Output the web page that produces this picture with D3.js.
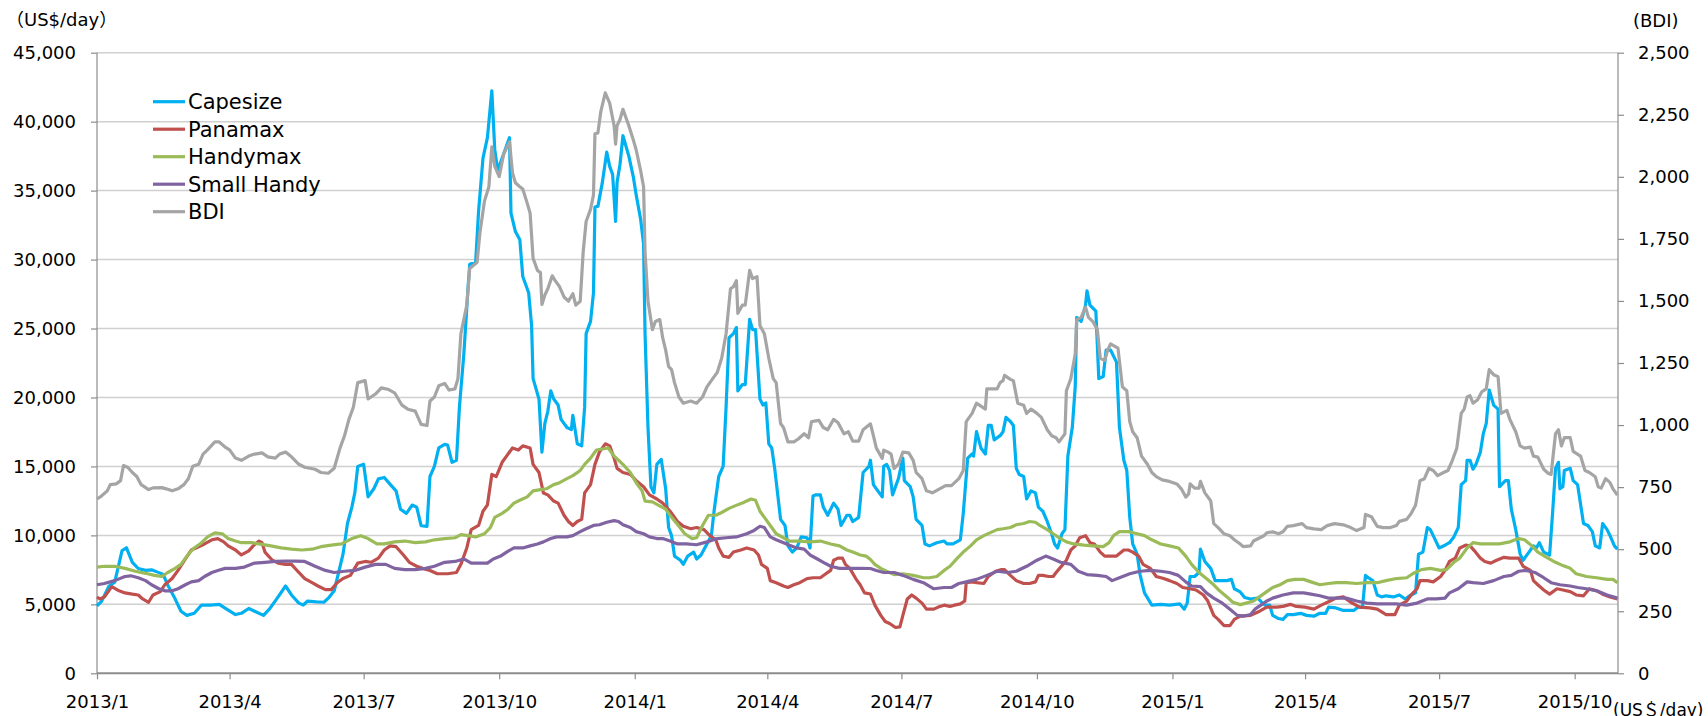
<!DOCTYPE html>
<html>
<head>
<meta charset="utf-8">
<script src="https://cdn.jsdelivr.net/npm/d3@7"></script>
<style>
html,body{margin:0;padding:0;background:#fff;}
svg{display:block;}
text{font-family:"DejaVu Sans","Noto Sans CJK JP",sans-serif;fill:#000;}
</style>
</head>
<body>
<svg id="chart" width="1708" height="716"></svg>
<script>
// ---- data: [days since 2013-01-01, value] ----
const seriesNames = ["Capesize","Panamax","Handymax","Small Handy","BDI"];
const seriesColors = ["#00B0F0","#C0504D","#9BBB59","#8064A2","#A5A5A5"];
const leftTicks = [0,5000,10000,15000,20000,25000,30000,35000,40000,45000];
const rightTicks = [0,250,500,750,1000,1250,1500,1750,2000,2250,2500];

const capesize = [[0,4900],[3,5200],[8,6300],[12,6600],[17,8900],[20,9100],[24,8050],[28,7600],[33,7460],[37,7500],[42,7300],[45,7160],[48,6400],[53,5400],[57,4500],[61,4200],[66,4350],[71,4950],[77,4950],[83,5000],[88,4650],[94,4260],[98,4350],[103,4700],[107,4500],[113,4200],[117,4650],[122,5400],[128,6330],[132,5680],[137,5090],[140,4950],[143,5240],[149,5180],[154,5150],[157,5450],[161,5980],[165,7750],[167,8640],[170,10860],[173,12050],[175,13080],[177,15000],[181,15150],[184,12800],[188,13400],[191,14100],[195,14200],[199,13700],[203,13230],[206,11900],[210,11600],[214,12200],[217,12050],[220,10700],[224,10660],[226,14270],[229,15000],[232,16340],[236,16600],[238,16550],[241,15300],[244,15450],[246,19300],[249,23150],[252,28180],[253,29660],[257,29800],[259,33500],[262,37350],[265,38840],[268,42240],[270,37950],[272,36470],[276,37650],[280,38840],[281,33360],[284,32030],[287,31440],[289,28770],[293,27590],[295,25220],[296,21370],[300,19890],[302,16040],[304,18120],[306,19000],[308,20480],[310,19890],[313,19450],[315,18410],[319,17820],[322,17670],[323,18710],[326,16640],[329,16490],[331,19300],[332,24630],[335,25520],[337,27590],[338,33800],[340,33860],[343,35580],[346,37800],[348,36760],[350,36170],[352,32770],[353,35580],[355,36910],[357,38980],[361,37500],[364,36020],[366,34690],[369,32920],[371,31140],[372,24630],[374,17820],[376,13530],[378,13080],[380,15150],[383,15510],[386,13380],[388,10570],[390,9980],[392,8500],[396,8200],[398,7900],[401,8500],[405,8790],[407,8290],[410,8580],[414,9380],[417,9980],[419,11900],[422,14270],[425,15000],[427,19300],[429,24330],[432,24630],[434,25070],[435,20480],[438,20930],[440,20930],[443,25660],[445,24920],[447,24920],[450,19890],[452,19450],[454,19600],[456,16640],[458,16340],[460,14860],[464,11160],[467,10720],[469,9240],[472,8790],[475,9090],[478,9890],[482,9830],[484,9090],[486,12850],[488,12940],[491,12940],[493,12050],[496,11460],[500,12340],[503,11900],[505,10720],[509,11460],[511,11460],[513,11010],[517,11310],[520,14560],[524,15000],[525,15450],[527,13680],[530,13230],[533,12790],[534,15010],[536,15150],[538,14710],[540,12940],[544,14120],[547,15600],[548,13970],[552,13530],[554,12790],[556,11160],[560,10720],[562,9380],[565,9240],[570,9470],[575,9590],[577,9380],[581,9380],[586,9680],[588,11600],[591,15600],[594,15900],[595,15750],[597,17520],[600,16340],[603,15900],[605,17970],[607,17970],[609,16930],[613,17230],[615,17520],[617,18560],[620,18260],[622,17970],[624,14860],[626,14420],[629,14270],[631,12640],[634,13230],[637,13080],[639,12050],[642,11750],[645,11010],[648,10120],[650,9380],[652,9090],[655,10120],[657,10420],[659,15750],[662,17820],[664,20780],[665,25810],[668,25520],[671,26700],[672,27740],[674,26700],[678,26260],[680,21370],[683,21520],[685,23440],[688,23440],[690,23000],[692,22560],[694,17820],[697,15450],[699,14710],[701,11310],[703,9380],[706,8640],[708,7160],[711,5830],[716,4940],[722,5000],[728,4940],[735,5030],[738,4650],[740,5090],[742,7020],[745,7020],[748,7310],[749,9000],[752,8110],[756,7610],[759,6720],[763,6720],[767,6720],[770,6810],[772,6130],[776,5900],[779,5500],[783,5390],[788,5450],[791,5100],[793,4940],[796,4940],[798,4200],[802,3970],[805,3910],[808,4260],[812,4260],[817,4350],[821,4200],[826,4140],[830,4350],[834,4350],[836,4800],[841,4740],[846,4560],[853,4560],[856,4800],[859,4800],[861,7100],[863,6930],[866,6720],[869,5680],[872,5540],[875,5620],[880,5540],[884,5680],[888,5390],[891,5620],[895,5830],[897,8640],[900,8790],[903,10570],[905,10420],[907,9980],[911,9090],[915,9290],[918,9470],[921,9890],[924,10570],[926,13680],[929,13970],[930,15450],[932,15450],[934,14800],[936,15150],[939,16040],[941,17380],[943,18120],[945,20540],[948,19450],[951,19150],[952,13530],[956,13970],[958,13970],[960,11900],[963,10420],[966,8640],[968,8200],[972,8790],[975,9240],[977,9090],[979,9470],[982,8790],[986,8580],[988,11600],[990,14860],[992,15300],[993,13380],[995,13530],[996,14710],[1000,14860],[1002,13970],[1005,13680],[1009,10860],[1012,10720],[1015,10270],[1017,9240],[1020,9090],[1022,10860],[1025,10420],[1027,9980],[1030,9240],[1032,9000]];

const panamax = [[0,5535],[2,5390],[5,5530],[10,6280],[15,5980],[19,5830],[24,5740],[28,5680],[31,5390],[35,5150],[38,5680],[43,5920],[46,6420],[51,6870],[55,7460],[60,8290],[64,8940],[69,9180],[73,9380],[78,9680],[82,9770],[86,9530],[89,9240],[94,8940],[98,8580],[103,8880],[106,9240],[110,9590],[112,9470],[114,8790],[119,8200],[123,7990],[128,7900],[132,7900],[137,7310],[141,6870],[146,6570],[150,6330],[155,6070],[159,6070],[163,6570],[167,6870],[172,7100],[177,7990],[182,8110],[186,8050],[191,8350],[195,8940],[199,9240],[203,9180],[208,8580],[212,8050],[217,7760],[221,7610],[226,7460],[231,7220],[238,7220],[244,7310],[247,7900],[251,9090],[254,10420],[259,10720],[262,11750],[265,12200],[268,14420],[271,14270],[275,15300],[278,15750],[282,16340],[286,16190],[289,16490],[294,16340],[296,15150],[300,14560],[303,13080],[306,12940],[310,12490],[313,12340],[317,11460],[320,11010],[323,10720],[326,11010],[329,11160],[331,13080],[335,13680],[338,15150],[341,16040],[345,16640],[348,16490],[351,15600],[353,14860],[357,14560],[362,14420],[366,13970],[371,13530],[375,12940],[380,12640],[384,12340],[389,11750],[394,11010],[398,10660],[403,10480],[407,10570],[412,10420],[416,9980],[420,9680],[422,9090],[425,8500],[429,8410],[432,8790],[437,8940],[441,9090],[446,8940],[449,8580],[451,7900],[455,7610],[457,6720],[461,6570],[466,6330],[469,6220],[473,6420],[477,6570],[482,6870],[486,6930],[491,6930],[494,7160],[498,7460],[500,8200],[503,8350],[506,8350],[508,7900],[511,7610],[515,6870],[518,6420],[521,5830],[525,5750],[528,4940],[532,4200],[535,3760],[538,3610],[542,3320],[545,3370],[547,4200],[550,5390],[553,5680],[556,5450],[560,5090],[563,4650],[568,4650],[571,4800],[575,4940],[579,4850],[582,4940],[586,5030],[589,5240],[590,6570],[594,6630],[597,6570],[602,6510],[605,7020],[610,7400],[614,7520],[616,7520],[620,7100],[624,6720],[629,6510],[633,6510],[637,6630],[639,7100],[642,7100],[646,7020],[649,7020],[651,7310],[655,7810],[658,8200],[661,8940],[664,9240],[667,9830],[671,9980],[674,9470],[677,9380],[681,8790],[684,8500],[688,8500],[692,8500],[697,8940],[700,8940],[703,8790],[707,8500],[710,7900],[715,7610],[719,7020],[724,6870],[728,6720],[733,6510],[737,6220],[742,6130],[746,6040],[751,5680],[754,5240],[758,4200],[761,3910],[765,3460],[769,3460],[772,3910],[776,4140],[783,4200],[788,4440],[794,4800],[801,4800],[805,4850],[810,5000],[814,4850],[820,4800],[826,4650],[831,4940],[837,5240],[841,5450],[846,5540],[851,5150],[857,4800],[864,4740],[869,4650],[875,4260],[881,4260],[884,4940],[889,5240],[892,5680],[896,6130],[898,6720],[903,6720],[907,6630],[912,7020],[915,7460],[918,8110],[922,8350],[925,9090],[929,9290],[932,9240],[935,8880],[939,8350],[942,8110],[946,7990],[950,8200],[955,8410],[959,8350],[965,8350],[968,7760],[973,7460],[975,6720],[978,6420],[982,6040],[986,5740],[991,6130],[995,6040],[1000,5920],[1004,5680],[1009,5620],[1013,6130],[1018,5980],[1022,5740],[1027,5540],[1032,5390]];

const handymax = [[0,7700],[5,7760],[12,7760],[19,7610],[26,7400],[33,7250],[39,7100],[44,7020],[48,7310],[53,7610],[57,7900],[62,8640],[66,9090],[71,9470],[75,9890],[80,10180],[85,10120],[89,9770],[94,9590],[98,9470],[105,9470],[112,9350],[118,9240],[125,9090],[132,9000],[139,8940],[146,9000],[152,9180],[159,9290],[166,9380],[173,9770],[179,9980],[184,9770],[190,9380],[195,9380],[202,9530],[209,9590],[216,9470],[223,9530],[229,9680],[236,9770],[243,9830],[247,10060],[252,9980],[257,9890],[263,10120],[267,10570],[270,11310],[275,11600],[279,11900],[283,12340],[287,12550],[292,12790],[296,13230],[301,13320],[305,13380],[310,13680],[314,13820],[319,14120],[323,14330],[328,14710],[331,15150],[335,15600],[339,16190],[344,16280],[347,16340],[351,15750],[354,15450],[357,15150],[362,14560],[366,13820],[370,13230],[372,12490],[377,12430],[381,12200],[386,11900],[390,11310],[395,10660],[399,10120],[404,9770],[407,9830],[411,10720],[415,11460],[420,11460],[424,11660],[429,11960],[433,12140],[438,12340],[441,12490],[444,12640],[447,12550],[450,11750],[453,11310],[457,10720],[461,10120],[466,9830],[470,9590],[477,9590],[484,9530],[491,9590],[498,9380],[504,9240],[509,8940],[513,8790],[518,8580],[522,8500],[525,8250],[528,7900],[532,7610],[536,7400],[541,7160],[547,7220],[554,7100],[561,6930],[565,6930],[570,7020],[575,7460],[579,7760],[584,8350],[588,8790],[593,9240],[597,9680],[602,9980],[606,10180],[611,10420],[615,10480],[620,10570],[624,10770],[629,10860],[633,11010],[637,10950],[640,10720],[645,10420],[649,10120],[654,9770],[658,9530],[663,9380],[670,9290],[676,9240],[683,9180],[687,9470],[690,9980],[694,10270],[700,10270],[706,10120],[711,9980],[716,9680],[722,9380],[728,9240],[734,9090],[739,8500],[743,7900],[748,7310],[753,6870],[758,6420],[762,5980],[767,5540],[771,5150],[776,4980],[780,5090],[785,5240],[789,5540],[794,5920],[798,6220],[803,6420],[808,6720],[813,6810],[819,6810],[824,6630],[830,6420],[836,6510],[841,6570],[848,6570],[855,6510],[862,6570],[869,6570],[875,6720],[882,6870],[889,6930],[893,7220],[899,7520],[905,7610],[912,7460],[916,7520],[921,8050],[925,8350],[930,9090],[934,9470],[939,9380],[946,9380],[952,9380],[959,9530],[965,9770],[969,9680],[974,9240],[978,8790],[984,8410],[990,8050],[995,7810],[1000,7610],[1004,7220],[1011,7020],[1018,6930],[1025,6810],[1029,6810],[1032,6570]];

const smallHandy = [[0,6420],[5,6510],[12,6720],[19,7020],[23,7070],[28,6930],[33,6720],[37,6420],[42,6130],[46,5980],[51,5980],[55,6130],[60,6420],[64,6630],[69,6720],[73,7020],[78,7310],[82,7460],[87,7610],[94,7610],[100,7700],[107,7990],[114,8050],[121,8110],[128,8140],[134,8140],[141,8110],[148,7760],[155,7460],[161,7310],[168,7400],[175,7460],[182,7700],[189,7900],[196,7900],[202,7610],[209,7520],[216,7520],[223,7610],[229,7760],[236,8050],[243,8110],[249,8290],[254,7990],[261,7990],[265,7990],[269,8290],[274,8500],[278,8790],[283,9090],[289,9090],[294,9240],[299,9380],[303,9530],[308,9770],[312,9890],[319,9890],[323,9980],[328,10270],[332,10480],[337,10720],[341,10770],[346,10950],[351,11070],[354,11010],[357,10770],[362,10570],[366,10270],[371,10120],[375,9890],[380,9770],[384,9770],[389,9590],[394,9380],[400,9380],[407,9320],[414,9530],[421,9770],[427,9830],[434,9890],[441,10120],[446,10360],[450,10660],[453,10570],[457,9890],[461,9680],[466,9470],[470,9290],[475,9090],[480,9000],[484,8580],[489,8290],[493,8050],[498,7760],[504,7610],[511,7610],[518,7610],[525,7600],[529,7460],[534,7310],[541,7310],[547,7100],[554,6810],[561,6570],[568,6130],[575,6220],[580,6220],[585,6510],[590,6630],[597,6810],[604,7100],[611,7400],[618,7310],[624,7400],[631,7760],[638,8200],[644,8500],[649,8290],[654,8050],[661,7900],[666,7400],[672,7160],[679,7100],[685,7020],[689,6720],[694,6930],[701,7220],[708,7400],[715,7460],[722,7400],[728,7310],[734,7100],[739,6630],[743,6330],[749,6280],[753,5830],[758,5450],[763,5150],[769,4650],[774,4200],[778,4140],[783,4260],[786,4650],[790,4940],[794,5240],[798,5450],[805,5680],[812,5830],[819,5830],[824,5740],[830,5620],[836,5450],[848,5450],[855,5240],[862,5090],[869,5030],[882,5030],[889,4940],[896,5090],[903,5390],[909,5390],[915,5450],[918,5830],[924,6130],[930,6630],[934,6570],[941,6510],[948,6720],[955,7020],[960,7100],[965,7400],[970,7460],[976,7310],[982,6930],[987,6570],[993,6420],[1000,6330],[1005,6220],[1011,6130],[1018,5980],[1025,5680],[1032,5450]];

const bdi = [[0,702],[3,714],[7,735],[9,760],[13,763],[16,776],[18,837],[21,829],[24,809],[27,793],[30,760],[35,740],[38,747],[44,748],[47,743],[51,735],[55,743],[59,760],[62,784],[65,834],[69,842],[72,883],[75,900],[80,932],[83,932],[87,911],[90,900],[94,867],[98,858],[103,875],[107,883],[112,888],[116,872],[121,867],[124,883],[128,891],[132,872],[137,842],[141,830],[148,822],[152,809],[157,806],[161,826],[165,908],[168,957],[171,1023],[174,1072],[177,1171],[182,1179],[184,1105],[189,1125],[193,1150],[198,1143],[202,1130],[207,1080],[211,1064],[216,1056],[220,1003],[224,998],[226,1097],[229,1113],[232,1158],[236,1168],[239,1141],[243,1146],[245,1187],[247,1368],[251,1483],[253,1631],[258,1656],[260,1779],[263,1902],[266,1960],[268,2121],[270,2042],[273,2001],[276,2091],[280,2141],[282,2017],[284,1976],[287,1960],[289,1951],[292,1894],[294,1853],[296,1672],[299,1623],[301,1614],[302,1486],[304,1524],[306,1549],[309,1601],[311,1582],[314,1557],[317,1516],[320,1499],[323,1529],[325,1483],[328,1499],[330,1697],[332,1820],[335,1869],[337,1927],[338,2173],[340,2177],[342,2264],[345,2338],[348,2297],[351,2206],[352,2132],[353,2206],[355,2231],[357,2272],[361,2206],[364,2149],[366,2108],[369,2025],[371,1960],[372,1697],[374,1499],[377,1384],[379,1417],[382,1425],[384,1351],[386,1302],[388,1236],[390,1223],[392,1171],[395,1113],[398,1088],[403,1097],[407,1088],[411,1113],[414,1154],[417,1179],[421,1212],[424,1269],[427,1368],[430,1549],[432,1557],[434,1582],[435,1450],[438,1483],[440,1483],[443,1623],[445,1590],[448,1598],[450,1401],[453,1368],[456,1269],[459,1187],[461,1171],[464,1006],[466,990],[469,932],[473,932],[476,944],[480,965],[483,949],[485,1014],[490,1019],[493,990],[496,981],[500,1023],[503,1009],[507,965],[510,973],[513,935],[517,935],[520,981],[525,1005],[527,957],[529,907],[533,866],[534,899],[537,891],[539,883],[541,825],[544,842],[547,891],[551,888],[554,858],[556,809],[560,784],[563,735],[567,727],[571,740],[576,756],[580,756],[585,784],[588,817],[590,1014],[594,1047],[597,1088],[599,1080],[603,1064],[604,1146],[608,1146],[611,1146],[613,1171],[615,1179],[616,1200],[620,1184],[622,1179],[625,1088],[629,1080],[631,1047],[634,1064],[638,1047],[641,1031],[645,981],[648,957],[651,949],[653,932],[657,965],[658,1138],[661,1187],[664,1286],[665,1425],[668,1434],[671,1475],[673,1434],[676,1417],[679,1384],[681,1269],[684,1261],[686,1302],[688,1327],[693,1310],[696,1154],[699,1138],[701,1014],[703,973],[706,949],[709,875],[713,842],[716,809],[719,792],[723,779],[728,773],[733,763],[736,743],[739,710],[741,723],[742,763],[745,746],[748,746],[749,773],[752,727],[756,694],[758,603],[761,587],[765,562],[769,554],[772,538],[776,521],[778,510],[783,513],[785,533],[788,542],[792,554],[794,566],[798,570],[802,562],[805,570],[808,592],[812,595],[818,603],[821,587],[826,582],[831,579],[835,595],[840,603],[846,598],[851,587],[855,575],[860,587],[861,640],[865,631],[869,592],[873,587],[878,587],[882,595],[884,612],[889,620],[892,644],[895,677],[898,776],[901,784],[904,825],[907,817],[910,796],[914,809],[917,817],[920,858],[923,907],[926,1047],[928,1064],[930,1113],[932,1118],[934,1088],[937,1101],[940,1134],[943,1146],[945,1223],[948,1203],[951,1195],[953,1047],[957,1059],[959,1023],[963,973],[966,916],[969,907],[973,911],[975,875],[978,871],[982,822],[985,806],[987,801],[990,965],[992,981],[994,916],[996,949],[1000,949],[1002,894],[1007,875],[1010,817],[1013,809],[1017,792],[1019,751],[1021,746],[1024,784],[1027,768],[1029,743],[1032,718]];

// ---- chart ----
const svg = d3.select("#chart");
svg.append("rect").attr("width",1708).attr("height",716).attr("fill","#fff");

const L = 97, R = 1618, T = 52.7, B = 673.3;
const startDate = new Date(2013,0,1);
const toDate = d => new Date(2013,0,1 + d[0]);
const x = d3.scaleTime().domain([startDate, new Date(2015,9,30,10)]).range([L,R]);
const yL = d3.scaleLinear().domain([0,45000]).range([B,T]);
const yR = d3.scaleLinear().domain([0,2500]).range([B,T]);

// gridlines
svg.append("g").selectAll("line").data(leftTicks.filter(v=>v>0)).join("line")
  .attr("x1",L).attr("x2",R).attr("y1",d=>yL(d)).attr("y2",d=>yL(d))
  .attr("stroke","#D0D0D0").attr("stroke-width",1.5);

// left axis
const gL = svg.append("g").attr("transform",`translate(${L},0)`)
  .call(d3.axisLeft(yL).tickValues(leftTicks).tickFormat(d3.format(",")).tickSize(6).tickPadding(15));
// right axis
const gR = svg.append("g").attr("transform",`translate(${R},0)`)
  .call(d3.axisRight(yR).tickValues(rightTicks).tickFormat(d3.format(",")).tickSize(6).tickPadding(14));
// bottom axis
const gB = svg.append("g").attr("transform",`translate(0,${B})`)
  .call(d3.axisBottom(x).ticks(d3.timeMonth.every(3)).tickFormat(d3.timeFormat("%Y/%-m")).tickSize(6).tickPadding(16));

[gL,gR,gB].forEach(g=>{
  g.select(".domain").attr("stroke","#8C8C8C").attr("stroke-width",1.2);
  g.selectAll(".tick line").attr("stroke","#8C8C8C").attr("stroke-width",1.2);
  g.selectAll(".tick text").attr("font-size",18).attr("font-family","DejaVu Sans").attr("fill","#000");
});
gL.select(".domain").attr("d",`M0,${T}V${B}`);
gR.select(".domain").attr("d",`M0,${T}V${B}`);
gB.select(".domain").attr("d",`M${L},0H${R}`).attr("stroke-width",2);

// lines
const lineL = d3.line().x(d=>x(toDate(d))).y(d=>yL(d[1]));
const lineR = d3.line().x(d=>x(toDate(d))).y(d=>yR(d[1]));
const data = [capesize,panamax,handymax,smallHandy];
const gLines = svg.append("g");
data.forEach((s,i)=>{
  gLines.append("path").datum(s).attr("d",lineL).attr("fill","none")
    .attr("stroke",seriesColors[i]).attr("stroke-width",3.2).attr("stroke-linejoin","round");
});
gLines.append("path").datum(bdi).attr("d",lineR).attr("fill","none")
  .attr("stroke",seriesColors[4]).attr("stroke-width",3.2).attr("stroke-linejoin","round");

// legend
const leg = svg.append("g");
seriesNames.forEach((n,i)=>{
  const yy = 101.7 + i*27.5;
  leg.append("line").attr("x1",153).attr("x2",185).attr("y1",yy).attr("y2",yy)
    .attr("stroke",seriesColors[i]).attr("stroke-width",3.2);
  leg.append("text").attr("x",188).attr("y",yy).attr("dy","0.36em")
    .attr("font-size",21).text(n);
});

// unit labels
svg.append("text").attr("x",6).attr("y",20).attr("dy","0.36em").attr("font-size",18).text("（US$/day）");
svg.append("text").attr("x",1633).attr("y",21).attr("dy","0.36em").attr("font-size",18).text("(BDI)");
svg.append("text").attr("x",1613).attr("y",716).attr("font-size",17).text("(US＄/day)");
</script>
</body>
</html>
